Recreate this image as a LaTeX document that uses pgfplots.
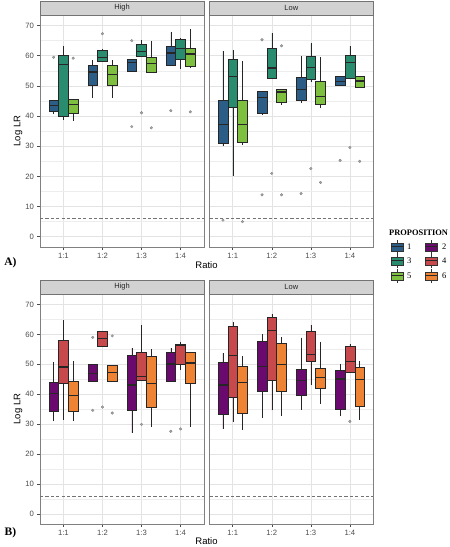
\documentclass[border=0pt]{standalone}
\usepackage{fontspec}
\setmainfont{Liberation Sans}
\newfontfamily\serifrm{Liberation Serif}
\usepackage{pgfplots}
\pgfplotsset{compat=1.18}
\usepgfplotslibrary{statistics}
\definecolor{cA}{HTML}{2C5D87}
\definecolor{cC}{HTML}{2A8C6E}
\definecolor{cE}{HTML}{7FBF40}
\definecolor{cB}{HTML}{6A0A6E}
\definecolor{cD}{HTML}{C8494C}
\definecolor{cF}{HTML}{EE8433}
\definecolor{stripc}{HTML}{D2D2D2}
\pgfplotsset{
  boxplot/draw direction=y,
  boxplot/box extend=0.25,
  boxplot/whisker extend=0,
  boxplot/every median/.style={line width=1.2pt},
  facet/.style={
    scale only axis, width=164pt,
    xmin=0.4, xmax=4.6, ymin=-3.5, ymax=73.5,
    xtick={1,2,3,4}, xticklabels={1:1,1:2,1:3,1:4},
    ytick={0,10,...,70}, minor ytick={5,15,...,65},
    grid=both,
    major grid style={draw=black!11, line width=0.55pt},
    minor grid style={draw=black!7, line width=0.35pt},
    axis line style={draw=black!50, line width=0.6pt},
    tick align=outside, tick pos=left,
    major tick length=2.6pt, minor tick length=0pt,
    tick style={draw=black!70, line width=0.5pt},
    ticklabel style={font=\fontsize{7.7}{9}\selectfont, text=black!70},
    /pgf/number format/assume math mode=true,
  },
  lowfacet/.style={yticklabels={}, ytick style={draw=none}},
  bpbox/.style={draw=black!85, line width=0.45pt, mark=none, solid},
  outl/.style={only marks, mark=*, mark size=1.35pt, mark options={fill=black!35, draw=black!50, line width=0.3pt}},
  refl/.style={black!55, dash pattern=on 3.2pt off 2.2pt, line width=0.5pt},
}
\newcommand{\bp}[7]{%
  \addplot[bpbox, fill=#7, boxplot prepared={draw position=#1, lower whisker=#2,
    lower quartile=#3, median=#4, upper quartile=#5, upper whisker=#6}] coordinates {};}
\newcommand{\strip}[3]{%
  \draw[fill=stripc, draw=black!55, line width=0.6pt] (#1pt,#2pt) rectangle ++(164pt,14pt);
  \node[font=\fontsize{7.5}{9}\selectfont, text=black!85] at ([xshift=82pt,yshift=7pt]#1pt,#2pt) {#3};}
\newcommand{\lkey}[3]{%
  \draw[black!80, line width=0.5pt] (#1pt,#2pt-7pt) -- (#1pt,#2pt+7pt);
  \filldraw[fill=#3, draw=black!80, line width=0.5pt] (#1pt-6pt,#2pt-4pt) rectangle (#1pt+6pt,#2pt+4pt);
  \draw[black!85, line width=1pt] (#1pt-6pt,#2pt) -- (#1pt+6pt,#2pt);}
\begin{document}
\begin{tikzpicture}
% ---------------- A, High ----------------
\begin{axis}[facet, at={(40pt,299.7pt)}, anchor=south west, height=232.3pt]
\addplot[refl] coordinates {(0.4,6) (4.6,6)};
\bp{0.75}{40.7}{41.6}{43.6}{45.4}{45.4}{cA}
\bp{1.00}{38.8}{40.1}{57.2}{60.1}{63.3}{cC}
\bp{1.25}{38.3}{41.1}{43.8}{45.5}{45.5}{cE}
\bp{1.75}{46.0}{50.2}{54.6}{57.0}{58.5}{cA}
\bp{2.00}{58.1}{58.1}{59.3}{61.8}{62.2}{cC}
\bp{2.25}{46.0}{50.2}{53.7}{57.0}{58.7}{cE}
\bp{2.75}{55.0}{55.0}{57.8}{58.9}{58.9}{cA}
\bp{3.00}{59.8}{59.8}{61.4}{63.9}{65.2}{cC}
\bp{3.25}{54.6}{54.6}{57.5}{59.6}{65.0}{cE}
\bp{3.75}{56.5}{56.8}{60.9}{63.1}{68.0}{cA}
\bp{4.00}{55.6}{59.0}{62.5}{65.5}{65.8}{cC}
\bp{4.25}{55.9}{56.5}{60.6}{62.5}{68.8}{cE}
\addplot[outl] coordinates {(0.75,59.5) (1.25,59.2) (2.00,67.3) (2.75,65.0) (2.75,36.5) (3.00,41.1) (3.25,36.1) (3.75,41.8) (4.25,41.4)};
\end{axis}
% ---------------- A, Low ----------------
\begin{axis}[facet, lowfacet, at={(209.3pt,299.7pt)}, anchor=south west, height=232.3pt]
\addplot[refl] coordinates {(0.4,6) (4.6,6)};
\bp{0.75}{30.0}{31.1}{37.2}{45.1}{61.6}{cA}
\bp{1.00}{20.1}{42.9}{53.0}{58.9}{62.0}{cC}
\bp{1.25}{30.4}{31.4}{37.2}{45.1}{58.3}{cE}
\bp{1.75}{40.4}{41.1}{46.1}{48.4}{48.4}{cA}
\bp{2.00}{52.5}{52.5}{55.9}{62.5}{67.5}{cC}
\bp{2.25}{43.6}{44.5}{48.0}{48.9}{48.9}{cE}
\bp{2.75}{44.4}{45.1}{48.9}{52.8}{60.0}{cA}
\bp{3.00}{51.2}{52.1}{56.0}{60.0}{64.1}{cC}
\bp{3.25}{42.6}{43.8}{46.6}{51.5}{59.6}{cE}
\bp{3.75}{50.2}{50.2}{51.4}{53.2}{53.2}{cA}
\bp{4.00}{52.4}{52.4}{57.8}{60.1}{63.3}{cC}
\bp{4.25}{49.7}{49.7}{51.6}{53.1}{53.1}{cE}
\addplot[outl] coordinates {(0.75,5.5) (1.25,5.0) (1.75,65.3) (1.75,13.9) (2.00,21.0) (2.25,63.3) (2.25,13.9) (2.75,14.3) (3.00,22.6) (3.25,18.0) (3.75,25.3) (4.00,29.6) (4.25,25.0)};
\end{axis}
% ---------------- B, High ----------------
\begin{axis}[facet, at={(40pt,22.7pt)}, anchor=south west, height=230.3pt]
\addplot[refl] coordinates {(0.4,6) (4.6,6)};
\bp{0.75}{30.9}{34.2}{40.1}{44.0}{50.7}{cB}
\bp{1.00}{31.5}{43.7}{49.1}{57.9}{64.8}{cD}
\bp{1.25}{31.1}{34.2}{39.6}{44.5}{51.2}{cF}
\bp{1.75}{44.2}{44.2}{47.0}{50.0}{50.0}{cB}
\bp{2.00}{56.2}{56.2}{58.6}{60.9}{60.9}{cD}
\bp{2.25}{44.5}{44.5}{47.3}{49.6}{49.6}{cF}
\bp{2.75}{27.0}{34.5}{43.1}{52.9}{55.4}{cB}
\bp{3.00}{44.6}{44.6}{45.9}{54.0}{63.1}{cD}
\bp{3.25}{29.0}{35.7}{43.7}{52.8}{55.1}{cF}
\bp{3.75}{44.2}{44.2}{50.1}{53.9}{55.4}{cB}
\bp{4.00}{48.1}{50.1}{56.2}{56.8}{57.6}{cD}
\bp{4.25}{28.9}{43.7}{50.4}{53.9}{54.2}{cF}
\addplot[outl] coordinates {(1.75,59.0) (1.75,34.6) (2.00,35.7) (2.25,59.5) (2.25,33.7) (3.00,29.9) (3.75,27.6) (4.00,28.4)};
\end{axis}
% ---------------- B, Low ----------------
\begin{axis}[facet, lowfacet, at={(209.3pt,22.7pt)}, anchor=south west, height=230.3pt]
\addplot[refl] coordinates {(0.4,6) (4.6,6)};
\bp{0.75}{28.4}{33.4}{43.1}{50.7}{53.7}{cB}
\bp{1.00}{30.7}{39.0}{52.9}{62.6}{64.2}{cD}
\bp{1.25}{28.1}{33.7}{43.9}{49.4}{52.9}{cF}
\bp{1.75}{32.0}{40.9}{49.2}{57.6}{60.1}{cB}
\bp{2.00}{34.6}{44.6}{61.2}{65.9}{66.8}{cD}
\bp{2.25}{32.8}{40.9}{49.8}{57.2}{59.2}{cF}
\bp{2.75}{34.8}{39.8}{44.6}{48.3}{58.9}{cB}
\bp{3.00}{43.1}{51.1}{53.4}{60.9}{63.1}{cD}
\bp{3.25}{36.7}{42.0}{45.6}{48.7}{57.6}{cF}
\bp{3.75}{32.6}{35.1}{45.1}{48.1}{50.0}{cB}
\bp{4.00}{47.2}{47.2}{50.9}{56.1}{56.7}{cD}
\bp{4.25}{31.4}{36.1}{44.8}{49.0}{51.1}{cF}
\addplot[outl] coordinates {(4.00,30.9)};
\end{axis}
% strips
\strip{40}{532}{High}
\strip{209.3}{532}{Low}
\strip{40}{253}{High}
\strip{209.3}{253}{Low}
% axis titles
\node[rotate=90, font=\fontsize{9.5}{11}\selectfont] at (18pt,415.9pt) {Log LR};
\node[rotate=90, font=\fontsize{9.5}{11}\selectfont] at (18pt,137.9pt) {Log LR};
\node[font=\fontsize{9.5}{11}\selectfont] at (206.5pt,281.5pt) {Ratio};
\node[font=\fontsize{9.5}{11}\selectfont] at (206.5pt,5.5pt) {Ratio};
% panel letters
\node[font=\serifrm\bfseries\fontsize{11.5}{13}\selectfont] at (10.5pt,284pt) {A)};
\node[font=\serifrm\bfseries\fontsize{11.5}{13}\selectfont] at (10.5pt,14pt) {B)};
% legend
\node[anchor=west, inner sep=0pt, font=\serifrm\bfseries\fontsize{8.4}{10}\selectfont] at (389pt,314pt) {PROPOSITION};
\lkey{397}{300}{cA}\lkey{431}{300}{cB}
\lkey{397}{286}{cC}\lkey{431}{286}{cD}
\lkey{397}{271}{cE}\lkey{431}{271}{cF}
\node[anchor=west, inner sep=0pt, font=\serifrm\fontsize{8.5}{10}\selectfont] at (407pt,300pt) {1};
\node[anchor=west, inner sep=0pt, font=\serifrm\fontsize{8.5}{10}\selectfont] at (442pt,300pt) {2};
\node[anchor=west, inner sep=0pt, font=\serifrm\fontsize{8.5}{10}\selectfont] at (407pt,286pt) {3};
\node[anchor=west, inner sep=0pt, font=\serifrm\fontsize{8.5}{10}\selectfont] at (442pt,286pt) {4};
\node[anchor=west, inner sep=0pt, font=\serifrm\fontsize{8.5}{10}\selectfont] at (407pt,271pt) {5};
\node[anchor=west, inner sep=0pt, font=\serifrm\fontsize{8.5}{10}\selectfont] at (442pt,271pt) {6};
\pgfresetboundingbox
\useasboundingbox (0,0) rectangle (450pt,547pt);
\end{tikzpicture}
\end{document}
